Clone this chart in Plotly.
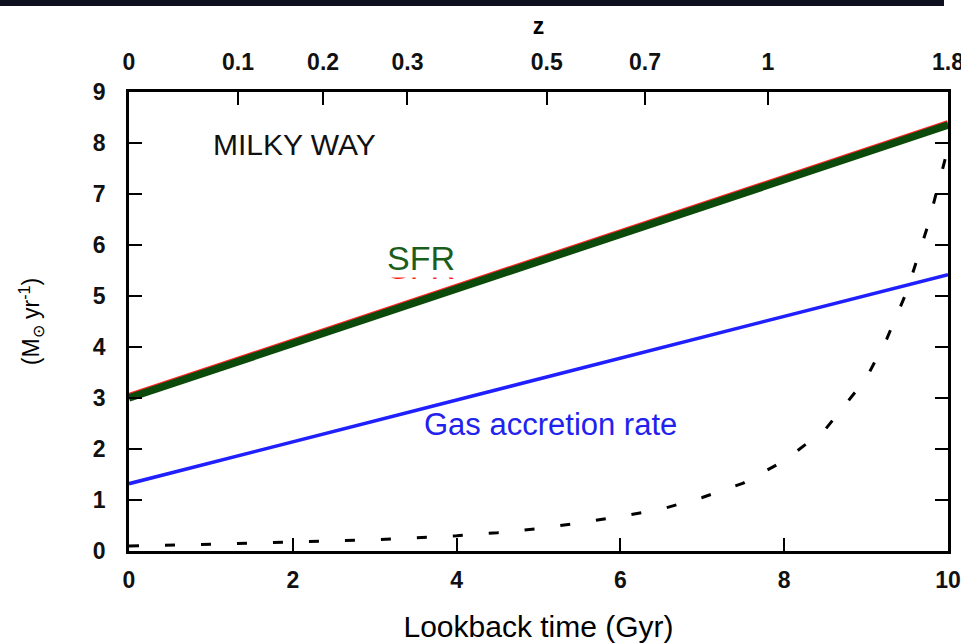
import plotly.graph_objects as go

# ---- data ----
lookback_sfr = [0, 10]
sfr = [3.0, 8.35]
sfr_red = [3.04, 8.39]

lookback_acc = [0, 10]
gas_accretion = [1.32, 5.42]

lookback_dash = [0, 1, 2, 3, 4, 4.5, 5, 5.5, 6, 6.5, 7, 7.5, 8, 8.5, 9, 9.25, 9.5, 9.75, 10]
dash_rate = [0.1, 0.13, 0.18, 0.22, 0.3, 0.36, 0.44, 0.55, 0.68, 0.82, 1.05, 1.33, 1.77,
             2.38, 3.38, 4.15, 5.1, 6.36, 7.9]

x_ticks = [0, 2, 4, 6, 8, 10]
y_ticks = [0, 1, 2, 3, 4, 5, 6, 7, 8, 9]
z_tick_pos = [0, 1.33, 2.37, 3.4, 5.1, 6.3, 7.8, 10]
z_tick_labels = ["0", "0.1", "0.2", "0.3", "0.5", "0.7", "1", "1.8"]

FONT = "Liberation Sans, Arial, sans-serif"

fig = go.Figure()

fig.add_trace(go.Scatter(x=lookback_dash, y=dash_rate, mode="lines",
                         line=dict(color="black", width=3, dash="10px,26px"),
                         hoverinfo="skip", showlegend=False))
fig.add_trace(go.Scatter(x=lookback_acc, y=gas_accretion, mode="lines",
                         line=dict(color="#1f1fff", width=3.5),
                         showlegend=False))
fig.add_trace(go.Scatter(x=lookback_sfr, y=sfr_red, mode="lines",
                         line=dict(color="#ff2020", width=6),
                         showlegend=False))
fig.add_trace(go.Scatter(x=lookback_sfr, y=sfr, mode="lines",
                         line=dict(color="#0b4a0b", width=7.5),
                         showlegend=False))
# invisible trace for top axis
fig.add_trace(go.Scatter(x=[0, 10], y=[0, 0], xaxis="x2", mode="lines",
                         line=dict(width=0), opacity=0, hoverinfo="skip",
                         showlegend=False))

axis_common = dict(showline=True, linecolor="black", linewidth=2.5,
                   ticks="inside", ticklen=13, tickwidth=2, tickcolor="black",
                   showgrid=False, zeroline=False, automargin=False,
                   ticklabeloverflow="allow",
                   tickfont=dict(family=FONT, size=23, color="#111111", weight="bold"))

fig.update_layout(
    width=961, height=643,
    margin=dict(l=129, r=13, t=92, b=92),
    paper_bgcolor="white", plot_bgcolor="white",
    xaxis=dict(range=[0, 10], tickvals=x_ticks, mirror=True,
               ticklabelstandoff=7,
               title=dict(text="Lookback time (Gyr)",
                          font=dict(family=FONT, size=30, color="black"),
                          standoff=24),
               **axis_common),
    xaxis2=dict(range=[0, 10], overlaying="x", side="top", anchor="y",
                tickvals=z_tick_pos, ticktext=z_tick_labels,
                ticklabelstandoff=10,
                title=dict(text="<b>z</b>",
                           font=dict(family=FONT, size=23, color="black"),
                           standoff=8),
                **axis_common),
    yaxis=dict(range=[0, 9], tickvals=y_ticks, mirror="ticks",
               ticklabelstandoff=16,
               title=dict(text="(M<sub>\u2299</sub> yr<sup>-1</sup>)",
                          font=dict(family=FONT, size=23, color="black"),
                          standoff=47),
               **axis_common),
    annotations=[
        dict(text="MILKY WAY", x=1.0, y=7.98, xref="x", yref="y",
             xanchor="left", yanchor="middle", showarrow=False,
             font=dict(family=FONT, size=30, color="#111111")),
        dict(text="SFR", x=3.56, y=5.75, xref="x", yref="y", yshift=-9,
             xanchor="center", yanchor="middle", showarrow=False,
             font=dict(family=FONT, size=34, color="#ff2020")),
        dict(text="SFR", x=3.56, y=5.75, xref="x", yref="y",
             xanchor="center", yanchor="middle", showarrow=False,
             bgcolor="white", borderpad=0,
             font=dict(family=FONT, size=34, color="#1b5e1b")),
        dict(text="Gas accretion rate", x=5.15, y=2.49, xref="x", yref="y",
             xanchor="center", yanchor="middle", showarrow=False,
             font=dict(family=FONT, size=31, color="#2222ee")),
    ],
    shapes=[
        dict(type="rect", xref="paper", yref="paper",
             x0=-129/819, x1=(944-129)/819, y0=1 + (92-6)/459, y1=1 + 92/459 + 0.01,
             fillcolor="#0e1020", line=dict(width=0), layer="above"),
    ],
)

fig.write_html("out.html", config={"displayModeBar": False},
               post_script="document.body.style.margin='0';document.body.style.overflow='hidden';")
